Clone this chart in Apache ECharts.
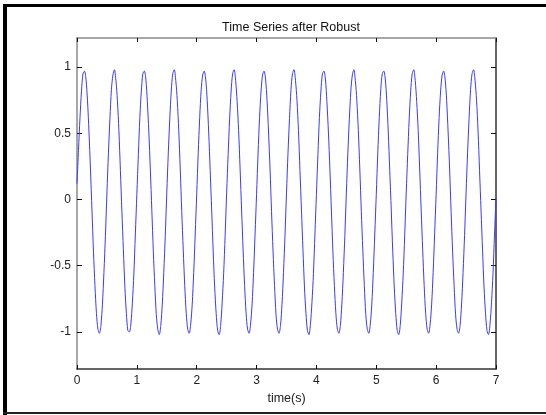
<!DOCTYPE html>
<html>
<head>
<meta charset="utf-8">
<script src="https://cdn.jsdelivr.net/npm/echarts@6/dist/echarts.min.js"></script>
<style>
  html, body { margin: 0; padding: 0; background: #ffffff; }
  #chart { width: 546px; height: 415px; }
</style>
</head>
<body>
<div id="chart"></div>
<script>
// samples, one row per 0.5 s cycle, step 0.025 s
const timeStep = 0.025;
const signal = [
  0.12, 0.37, 0.62, 0.82, 0.95, 0.97, 0.91, 0.75, 0.51, 0.23, -0.08, -0.39, -0.65, -0.86, -0.98, -1.01, -0.95, -0.79, -0.55, -0.27,
  0.05, 0.35, 0.61, 0.83, 0.94, 0.98, 0.90, 0.75, 0.52, 0.22, -0.09, -0.38, -0.66, -0.86, -0.99, -1.00, -0.94, -0.78, -0.56, -0.26,
  0.04, 0.34, 0.62, 0.82, 0.95, 0.97, 0.91, 0.74, 0.51, 0.23, -0.08, -0.39, -0.65, -0.87, -0.98, -1.02, -0.95, -0.79, -0.55, -0.27,
  0.05, 0.35, 0.61, 0.82, 0.95, 0.98, 0.90, 0.75, 0.52, 0.23, -0.09, -0.38, -0.65, -0.86, -0.98, -1.01, -0.94, -0.79, -0.55, -0.26,
  0.04, 0.35, 0.62, 0.83, 0.94, 0.97, 0.91, 0.75, 0.51, 0.22, -0.08, -0.39, -0.66, -0.86, -0.99, -1.02, -0.95, -0.78, -0.56, -0.27,
  0.05, 0.34, 0.61, 0.82, 0.95, 0.98, 0.90, 0.74, 0.52, 0.23, -0.08, -0.38, -0.65, -0.86, -0.98, -1.01, -0.94, -0.79, -0.55, -0.26,
  0.04, 0.35, 0.62, 0.82, 0.94, 0.97, 0.91, 0.75, 0.51, 0.23, -0.09, -0.39, -0.65, -0.87, -0.98, -1.01, -0.95, -0.79, -0.55, -0.27,
  0.05, 0.35, 0.61, 0.83, 0.95, 0.98, 0.90, 0.75, 0.52, 0.22, -0.08, -0.38, -0.66, -0.86, -0.99, -1.02, -0.94, -0.78, -0.56, -0.26,
  0.04, 0.34, 0.62, 0.82, 0.95, 0.97, 0.91, 0.74, 0.51, 0.23, -0.08, -0.39, -0.65, -0.86, -0.98, -1.01, -0.95, -0.79, -0.55, -0.27,
  0.05, 0.35, 0.61, 0.82, 0.94, 0.98, 0.90, 0.75, 0.52, 0.23, -0.09, -0.38, -0.65, -0.87, -0.98, -1.01, -0.94, -0.79, -0.55, -0.26,
  0.04, 0.35, 0.62, 0.83, 0.95, 0.97, 0.91, 0.75, 0.51, 0.22, -0.08, -0.39, -0.66, -0.86, -0.99, -1.02, -0.95, -0.78, -0.56, -0.27,
  0.05, 0.34, 0.61, 0.82, 0.95, 0.98, 0.90, 0.74, 0.52, 0.23, -0.08, -0.38, -0.65, -0.86, -0.98, -1.01, -0.94, -0.79, -0.55, -0.26,
  0.04, 0.35, 0.62, 0.82, 0.94, 0.97, 0.91, 0.75, 0.51, 0.23, -0.09, -0.39, -0.65, -0.87, -0.98, -1.01, -0.95, -0.79, -0.55, -0.27,
  0.05, 0.35, 0.61, 0.83, 0.95, 0.98, 0.90, 0.75, 0.52, 0.22, -0.08, -0.38, -0.66, -0.86, -0.99, -1.02, -0.94, -0.78, -0.56, -0.26,
  0.01
];
const xTicks = [0, 1, 2, 3, 4, 5, 6, 7];
const yTicks = [-1, -0.5, 0, 0.5, 1];
const yRange = [-1.28, 1.22];

const points = signal.map((v, i) => [+(i * timeStep).toFixed(3), v]);

const chart = echarts.init(document.getElementById('chart'));

const labelFont = { fontFamily: 'Arial, "Liberation Sans", sans-serif', fontSize: 12, color: '#222222' };
const lightAxis = '#8a8a8a';
const darkAxis = '#333333';

function xAxisDef(position, lineColor, showLabels) {
  return {
    type: 'value',
    position,
    min: 0,
    max: 7,
    interval: 1,
    axisLine: { show: true, onZero: false, lineStyle: { color: lineColor, width: 1.5 } },
    axisTick: { show: true, inside: true, length: 4, lineStyle: { color: '#111111', width: 1 } },
    axisLabel: Object.assign({ show: showLabels, margin: 6 }, labelFont),
    splitLine: { show: false }
  };
}

function yAxisDef(position, lineColor, showLabels) {
  return {
    type: 'value',
    position,
    min: yRange[0],
    max: yRange[1],
    axisLine: { show: true, onZero: false, lineStyle: { color: lineColor, width: 1.5 } },
    axisTick: { show: true, inside: true, length: 5, customValues: yTicks, lineStyle: { color: '#111111', width: 1 } },
    axisLabel: Object.assign({ show: showLabels, margin: 6, customValues: yTicks }, labelFont),
    splitLine: { show: false }
  };
}

const xBottom = xAxisDef('bottom', darkAxis, true);
xBottom.name = 'time(s)';
xBottom.nameLocation = 'middle';
xBottom.nameGap = 22;
xBottom.nameTextStyle = Object.assign({}, labelFont, { fontSize: 12.5 });

const option = {
  animation: false,
  backgroundColor: '#ffffff',
  title: {
    text: 'Time Series after Robust',
    left: 286,
    textAlign: 'center',
    top: 16,
    textStyle: { fontFamily: 'Arial, "Liberation Sans", sans-serif', fontSize: 12.5, fontWeight: 'normal', color: '#111111' }
  },
  grid: { left: 77, right: 50, top: 38, bottom: 46 },
  xAxis: [xBottom, xAxisDef('top', lightAxis, false)],
  yAxis: [yAxisDef('left', lightAxis, true), yAxisDef('right', darkAxis, false)],
  series: [
    {
      type: 'line',
      xAxisIndex: 0,
      yAxisIndex: 0,
      data: points,
      showSymbol: false,
      smooth: 0.3,
      lineStyle: { color: '#3a3aff', width: 1 }
    }
  ],
  graphic: [
    { type: 'rect', shape: { x: 3, y: 4, width: 4, height: 411 }, style: { fill: '#000000' } },
    { type: 'rect', shape: { x: 3, y: 4, width: 543, height: 3 }, style: { fill: '#000000' } },
    { type: 'rect', shape: { x: 3, y: 412, width: 543, height: 2 }, style: { fill: '#222222' } }
  ]
};

chart.setOption(option);
</script>
</body>
</html>
